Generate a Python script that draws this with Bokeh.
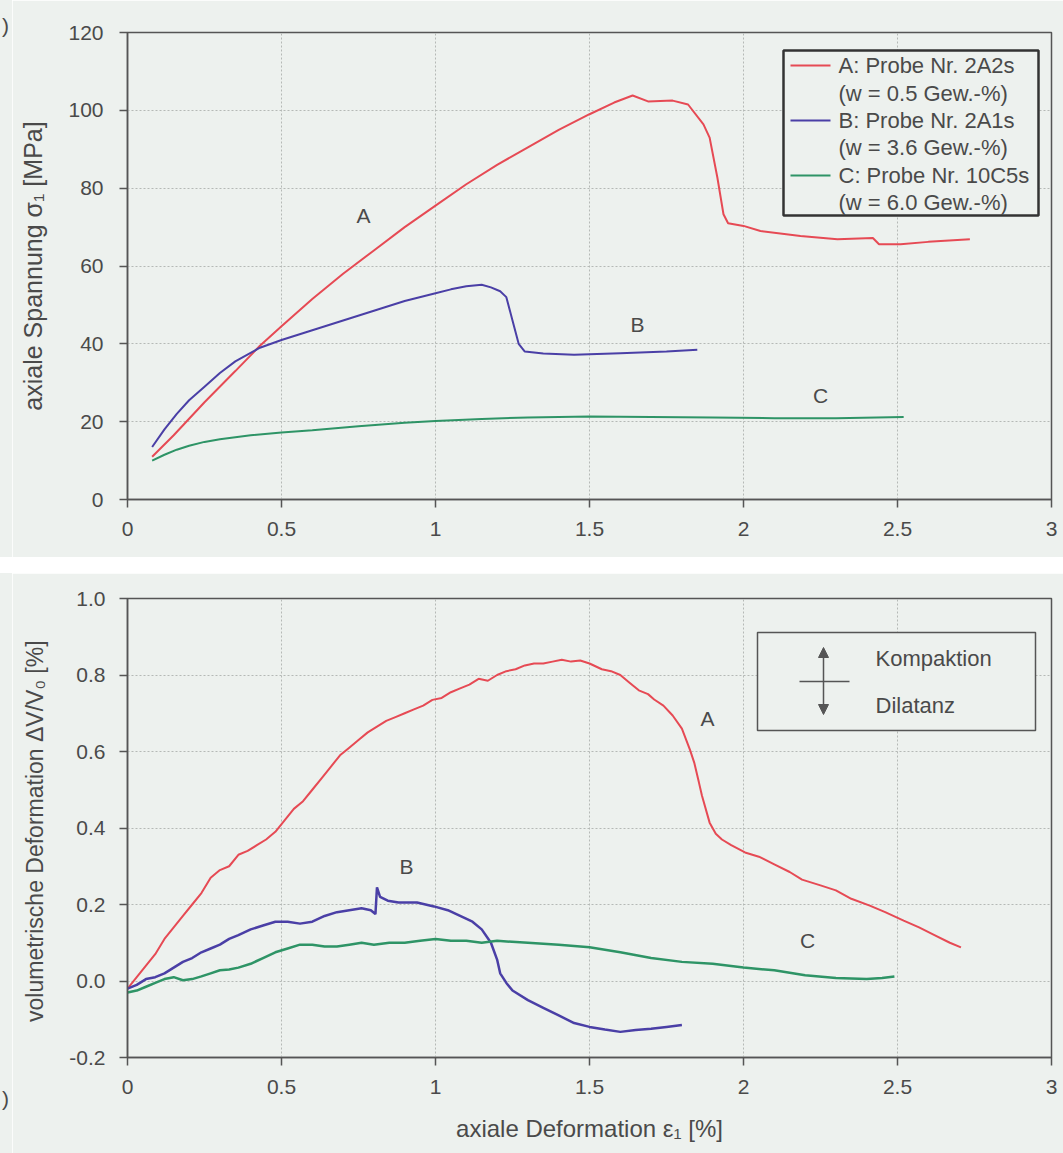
from bokeh.plotting import figure
from bokeh.layouts import column, row
from bokeh.models import (Range1d, FixedTicker, Label, Arrow, NormalHead, Div)
from bokeh.embed import file_html
from bokeh.resources import INLINE

# ---------------- data: upper panel (axial stress vs axial strain) ----------------
top_a_x = [0.08, 0.15, 0.25, 0.35, 0.43, 0.5, 0.6, 0.7, 0.8, 0.9, 1.0, 1.1, 1.2, 1.3, 1.4, 1.5,
           1.58, 1.64, 1.69, 1.77, 1.82, 1.87, 1.89, 1.915, 1.935, 1.95, 2.0, 2.055, 2.185,
           2.305, 2.42, 2.44, 2.51, 2.6, 2.735]
top_a_y = [11, 16.5, 25, 33, 39.5, 44.5, 51.5, 58, 64, 70, 75.5, 81, 86, 90.5, 95, 99,
           102, 103.8, 102.3, 102.5, 101.5, 96.4, 93, 82.8, 73.3, 71, 70.3, 69, 67.7,
           66.9, 67.2, 65.6, 65.6, 66.2, 66.9]

top_b_x = [0.08, 0.12, 0.16, 0.2, 0.25, 0.3, 0.35, 0.43, 0.5, 0.6, 0.7, 0.8, 0.9, 1.0, 1.05,
           1.1, 1.15, 1.18, 1.21, 1.23, 1.25, 1.27, 1.29, 1.35, 1.45, 1.6, 1.75, 1.85]
top_b_y = [13.5, 18, 22, 25.5, 29, 32.5, 35.5, 39, 41, 43.5, 46, 48.5, 51, 53, 54,
           54.8, 55.2, 54.5, 53.5, 52, 46, 40, 38, 37.5, 37.2, 37.6, 38, 38.5]

top_c_x = [0.08, 0.12, 0.16, 0.2, 0.25, 0.3, 0.4, 0.5, 0.6, 0.75, 0.9, 1.0, 1.15, 1.3, 1.5,
           1.7, 1.9, 2.1, 2.3, 2.52]
top_c_y = [10, 11.5, 12.8, 13.8, 14.8, 15.5, 16.5, 17.2, 17.8, 18.8, 19.7, 20.2, 20.7, 21.1, 21.3,
           21.2, 21.1, 20.9, 20.9, 21.2]

# ---------------- data: lower panel (volumetric strain vs axial strain) ----------------
bot_a_x = [0.00, 0.03, 0.06, 0.09, 0.12, 0.15, 0.18, 0.21, 0.24, 0.27, 0.30, 0.33, 0.36, 0.39,
           0.42, 0.45, 0.48, 0.51, 0.54, 0.57, 0.60, 0.63, 0.66, 0.69, 0.72, 0.75, 0.78, 0.81,
           0.84, 0.87, 0.90, 0.93, 0.96, 0.99, 1.02, 1.05, 1.08, 1.11, 1.14, 1.17, 1.20, 1.23,
           1.26, 1.29, 1.32, 1.35, 1.38, 1.41, 1.44, 1.47, 1.50, 1.54, 1.57, 1.60, 1.63, 1.66,
           1.69, 1.71, 1.74, 1.77, 1.80, 1.826, 1.84, 1.855, 1.865, 1.89, 1.91, 1.93, 1.96,
           2.005, 2.05, 2.10, 2.15, 2.19, 2.25, 2.30, 2.35, 2.41, 2.46, 2.52, 2.57, 2.62, 2.67,
           2.706]
bot_a_y = [-0.02, 0.01, 0.04, 0.07, 0.11, 0.14, 0.17, 0.20, 0.23, 0.27, 0.29, 0.30, 0.33, 0.34,
           0.355, 0.37, 0.39, 0.42, 0.45, 0.47, 0.50, 0.53, 0.56, 0.59, 0.61, 0.63, 0.65, 0.665,
           0.68, 0.69, 0.70, 0.71, 0.72, 0.735, 0.74, 0.755, 0.765, 0.775, 0.79, 0.785, 0.80, 0.81,
           0.815, 0.825, 0.83, 0.83, 0.835, 0.84, 0.835, 0.838, 0.83, 0.815, 0.81, 0.80, 0.78, 0.76,
           0.75, 0.736, 0.72, 0.694, 0.66, 0.605, 0.571, 0.52, 0.485, 0.414, 0.385, 0.37, 0.355,
           0.336, 0.325, 0.305, 0.285, 0.265, 0.25, 0.237, 0.215, 0.197, 0.18, 0.158, 0.14, 0.12,
           0.10, 0.088]

bot_b_x = [0.00, 0.03, 0.06, 0.09, 0.12, 0.15, 0.18, 0.21, 0.24, 0.27, 0.30, 0.33, 0.36, 0.40,
           0.44, 0.48, 0.52, 0.56, 0.60, 0.64, 0.68, 0.72, 0.76, 0.79, 0.805, 0.81, 0.82, 0.845,
           0.88, 0.94, 0.995, 1.04, 1.08, 1.12, 1.15, 1.18, 1.20, 1.21, 1.23, 1.25, 1.30, 1.35,
           1.40, 1.45, 1.50, 1.55, 1.60, 1.65, 1.70, 1.75, 1.80]
bot_b_y = [-0.02, -0.01, 0.005, 0.01, 0.02, 0.035, 0.05, 0.06, 0.075, 0.085, 0.095, 0.11, 0.12,
           0.135, 0.145, 0.155, 0.155, 0.15, 0.155, 0.17, 0.18, 0.185, 0.19, 0.185, 0.175, 0.245,
           0.22, 0.21, 0.205, 0.205, 0.195, 0.185, 0.17, 0.155, 0.135, 0.10, 0.056, 0.02, -0.005,
           -0.025, -0.05, -0.07, -0.09, -0.11, -0.12, -0.127, -0.133, -0.128, -0.125, -0.12,
           -0.115]

bot_c_x = [0.00, 0.03, 0.06, 0.09, 0.12, 0.15, 0.18, 0.21, 0.24, 0.27, 0.30, 0.33, 0.36, 0.40,
           0.44, 0.48, 0.52, 0.56, 0.60, 0.64, 0.68, 0.72, 0.76, 0.80, 0.85, 0.90, 0.95, 1.00,
           1.05, 1.10, 1.15, 1.20, 1.30, 1.40, 1.50, 1.60, 1.70, 1.80, 1.90, 2.00, 2.10, 2.20,
           2.30, 2.40, 2.45, 2.49]
bot_c_y = [-0.03, -0.025, -0.015, -0.005, 0.005, 0.01, 0.002, 0.005, 0.012, 0.02, 0.028, 0.03,
           0.035, 0.045, 0.06, 0.075, 0.085, 0.095, 0.095, 0.09, 0.09, 0.095, 0.10, 0.095, 0.10,
           0.10, 0.105, 0.11, 0.105, 0.105, 0.10, 0.105, 0.10, 0.095, 0.088, 0.075, 0.06, 0.05,
           0.045, 0.035, 0.028, 0.015, 0.008, 0.005, 0.008, 0.012]

x_ticks = [0, 0.5, 1, 1.5, 2, 2.5, 3]
x_tick_labels = ["0", "0.5", "1", "1.5", "2", "2.5", "3"]
top_y_ticks = [0, 20, 40, 60, 80, 100, 120]
bot_y_ticks = [-0.2, 0, 0.2, 0.4, 0.6, 0.8, 1.0]
bot_y_tick_labels = ["-0.2", "0.0", "0.2", "0.4", "0.6", "0.8", "1.0"]

legend_top = ["A: Probe Nr. 2A2s", "(w = 0.5 Gew.-%)",
              "B: Probe Nr. 2A1s", "(w = 3.6 Gew.-%)",
              "C: Probe Nr. 10C5s", "(w = 6.0 Gew.-%)"]

# ---------------- styles ----------------
BG = "#edf1ee"
INK = "#4a4a4a"
AX = "#555555"
RED = "#e64a54"
BLUE = "#4a3fa6"
GREEN = "#2e9466"
FONT = "Liberation Sans"
W = 1063
STRIP = 12          # narrow strip at the left carrying the cut-off panel letter

# frame geometry (pixels, page coordinates)
L, R = 127, 1051


def style(p, yticks, ylabels=None):
    p.background_fill_color = BG
    p.border_fill_color = BG
    p.outline_line_color = AX
    p.outline_line_width = 1.5
    p.outline_line_alpha = 1.0
    p.xaxis.ticker = FixedTicker(ticks=x_ticks)
    p.xaxis.major_label_overrides = {t: s for t, s in zip(x_ticks, x_tick_labels)}
    p.yaxis.ticker = FixedTicker(ticks=yticks)
    if ylabels:
        p.yaxis.major_label_overrides = {t: s for t, s in zip(yticks, ylabels)}
    p.xgrid.ticker = FixedTicker(ticks=x_ticks)
    p.ygrid.ticker = FixedTicker(ticks=yticks)
    for g in (p.xgrid, p.ygrid):
        g.grid_line_color = "#b5b9b6"
        g.grid_line_dash = "2 2"
        g.grid_line_width = 1
    for ax in (p.xaxis, p.yaxis):
        ax.axis_line_color = AX
        ax.axis_line_width = 1.5
        ax.major_tick_line_color = AX
        ax.major_tick_line_width = 1.5
        ax.major_tick_out = 8
        ax.major_tick_in = 0
        ax.minor_tick_line_color = None
        ax.major_label_text_font = FONT
        ax.major_label_text_font_size = "21px"
        ax.major_label_text_color = INK
        ax.axis_label_text_font = FONT
        ax.axis_label_text_font_size = "24px"
        ax.axis_label_text_color = INK
        ax.axis_label_text_font_style = "normal"


def lab(p, x, y, text, size="21px", align="center"):
    p.add_layout(Label(x=x, y=y, text=text, text_font=FONT, text_font_size=size,
                       text_color=INK, text_align=align, text_baseline="middle"))


def strip(height, top_pad):
    html = (f'<div style="background-color:{BG};width:{STRIP}px;height:{height}px;'
            f'box-sizing:border-box;padding-top:{top_pad}px;padding-left:2px;'
            f'color:{INK};font-family:\'{FONT}\';font-size:21px;line-height:21px;'
            f'overflow:hidden;margin:0;">)</div>')
    return Div(text=html, width=STRIP, height=height, margin=0)


# ================= upper figure =================
H1 = 557
T1, B1 = 32, 499
p1 = figure(width=W - STRIP, height=H1, x_range=Range1d(0, 3), y_range=Range1d(0, 120),
            output_backend="svg", toolbar_location=None,
            min_border_left=L - STRIP, min_border_right=W - R,
            min_border_top=T1, min_border_bottom=H1 - B1)
style(p1, top_y_ticks)
p1.yaxis.axis_label = "axiale Spannung σ₁ [MPa]"
p1.yaxis.axis_label_text_font_size = "25px"
p1.yaxis.major_label_standoff = 16
p1.yaxis.axis_label_standoff = 18
p1.xaxis.major_label_standoff = 14

sx1 = lambda px: (px - L) / (R - L) * 3.0
sy1 = lambda py: (B1 - py) / (B1 - T1) * 120.0

p1.line(top_a_x, top_a_y, line_color=RED, line_width=2)
p1.line(top_b_x, top_b_y, line_color=BLUE, line_width=2)
p1.line(top_c_x, top_c_y, line_color=GREEN, line_width=2)

lab(p1, sx1(363), sy1(215), "A")
lab(p1, sx1(637), sy1(324), "B")
lab(p1, sx1(820), sy1(395), "C")

# legend box
p1.quad(left=[sx1(783)], right=[sx1(1038)], top=[sy1(50)], bottom=[sy1(215)],
        fill_color=BG, line_color="#333333", line_width=2.5)
ly = [65, 93, 120, 147, 175, 202]
for i, (c, t1, t2) in enumerate([(RED, legend_top[0], legend_top[1]),
                                 (BLUE, legend_top[2], legend_top[3]),
                                 (GREEN, legend_top[4], legend_top[5])]):
    yy1 = sy1(ly[2 * i])
    yy2 = sy1(ly[2 * i + 1])
    p1.line([sx1(790), sx1(830)], [yy1, yy1], line_color=c, line_width=2)
    lab(p1, sx1(838), yy1, t1, size="22px", align="left")
    lab(p1, sx1(838), yy2, t2, size="22px", align="left")

# ================= lower figure =================
H2 = 580
OFF = 573
T2, B2 = 598 - OFF, 1057 - OFF
p2 = figure(width=W - STRIP, height=H2, x_range=Range1d(0, 3), y_range=Range1d(-0.2, 1.0),
            output_backend="svg", toolbar_location=None,
            min_border_left=L - STRIP, min_border_right=W - R,
            min_border_top=T2, min_border_bottom=H2 - B2)
style(p2, bot_y_ticks, bot_y_tick_labels)
p2.yaxis.axis_label = "volumetrische Deformation  ΔV/V₀ [%]"
p2.xaxis.axis_label = "axiale Deformation ε₁ [%]"
p2.yaxis.axis_label_text_font_size = "23px"
p2.yaxis.major_label_standoff = 14
p2.yaxis.axis_label_standoff = 18
p2.xaxis.major_label_standoff = 14
p2.xaxis.axis_label_standoff = 18

sx2 = lambda px: (px - L) / (R - L) * 3.0
sy2 = lambda py: 1.0 - (py - 598) / (1057 - 598) * 1.2

p2.line(bot_a_x, bot_a_y, line_color=RED, line_width=2)
p2.line(bot_b_x, bot_b_y, line_color=BLUE, line_width=2.5)
p2.line(bot_c_x, bot_c_y, line_color=GREEN, line_width=2.5)

lab(p2, sx2(707), sy2(718), "A")
lab(p2, sx2(406), sy2(866), "B")
lab(p2, sx2(807), sy2(940), "C")

p2.quad(left=[sx2(757)], right=[sx2(1035)], top=[sy2(632)], bottom=[sy2(730)],
        fill_color=BG, line_color=AX, line_width=1.5)
p2.line([sx2(799), sx2(849)], [sy2(681), sy2(681)], line_color=AX, line_width=1.5)
p2.add_layout(Arrow(x_start=sx2(823), y_start=sy2(681), x_end=sx2(823), y_end=sy2(647),
                    line_color=AX, line_width=1.5,
                    end=NormalHead(size=10, fill_color=AX, line_color=AX)))
p2.add_layout(Arrow(x_start=sx2(823), y_start=sy2(681), x_end=sx2(823), y_end=sy2(714),
                    line_color=AX, line_width=1.5,
                    end=NormalHead(size=10, fill_color=AX, line_color=AX)))
lab(p2, sx2(875), sy2(658), "Kompaktion", size="22px", align="left")
lab(p2, sx2(875), sy2(705), "Dilatanz", size="22px", align="left")

layout = column(row(strip(H1, 15), p1, spacing=0),
                row(strip(H2, 1098 - OFF - 10), p2, spacing=0),
                spacing=16)
open("out.html", "w").write(file_html(layout, INLINE))
